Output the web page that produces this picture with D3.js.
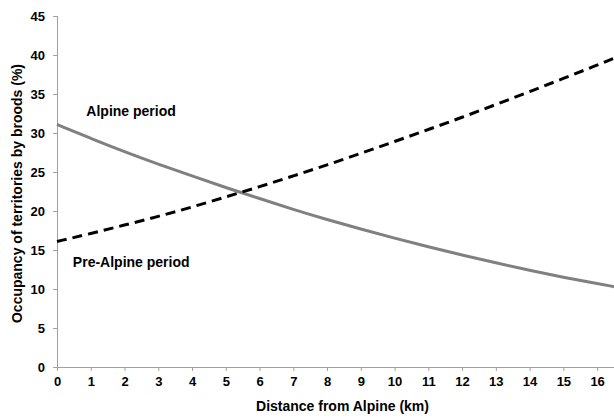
<!DOCTYPE html>
<html>
<head>
<meta charset="utf-8">
<script src="https://cdn.jsdelivr.net/npm/d3@7"></script>
<style>
  body { margin: 0; background: #fff; }
  svg { display: block; font-family: "Liberation Sans", Arial, sans-serif; }
  .axis path, .axis line { stroke: #a0a0a0; }
  .axis text { font-size: 13px; font-weight: bold; fill: #000; }
</style>
</head>
<body>
<svg id="chart" width="614" height="418"></svg>
<script>
// distance (km) and occupancy (%)
var distance   = [0, 1, 2, 3, 4, 5, 6, 7, 8, 9, 10, 11, 12, 13, 14, 15, 16, 16.5];
var alpine     = [31.1, 29.3, 27.6, 26.0, 24.5, 23.0, 21.6, 20.2, 18.9, 17.7, 16.5, 15.4, 14.35, 13.35, 12.4, 11.5, 10.7, 10.3];
var preAlpine  = [16.1, 17.1, 18.2, 19.3, 20.5, 21.8, 23.1, 24.5, 25.9, 27.4, 28.9, 30.45, 32.0, 33.65, 35.3, 37.0, 38.7, 39.6];
var xTicks = [0, 1, 2, 3, 4, 5, 6, 7, 8, 9, 10, 11, 12, 13, 14, 15, 16];
var yTicks = [0, 5, 10, 15, 20, 25, 30, 35, 40, 45];

var svg = d3.select("#chart"),
    margin = {top: 16, right: 0, bottom: 51, left: 57},
    width = +svg.attr("width") - margin.left - margin.right,
    height = +svg.attr("height") - margin.top - margin.bottom,
    g = svg.append("g").attr("transform", "translate(" + margin.left + "," + margin.top + ")");

var x = d3.scaleLinear().domain([0, 16.5]).range([0, width]),
    y = d3.scaleLinear().domain([0, 45]).range([height, 0]);

g.append("g")
    .attr("class", "axis")
    .attr("transform", "translate(0," + height + ")")
    .call(d3.axisBottom(x).tickValues(xTicks).tickSize(4).tickPadding(6))
    .call(function(a) { a.select(".domain").attr("d", "M0,0.5H" + width); });

g.append("g")
    .attr("class", "axis")
    .call(d3.axisLeft(y).tickValues(yTicks).tickSize(4).tickPadding(8))
    .call(function(a) { a.select(".domain").attr("d", "M0.5," + height + "V0"); });

var line = d3.line()
    .curve(d3.curveBasis)
    .x(function(d, i) { return x(distance[i]); })
    .y(function(d) { return y(d); });

g.append("path")
    .datum(alpine)
    .attr("fill", "none")
    .attr("stroke", "#808080")
    .attr("stroke-width", 3)
    .attr("d", line);

g.append("path")
    .datum(preAlpine)
    .attr("fill", "none")
    .attr("stroke", "#000")
    .attr("stroke-width", 3)
    .attr("stroke-dasharray", "10,6")
    .attr("d", line);

g.append("text")
    .attr("x", x(0.87)).attr("y", y(32.2))
    .style("font-size", "14px").style("font-weight", "bold")
    .text("Alpine period");

g.append("text")
    .attr("x", x(0.47)).attr("y", y(12.8))
    .style("font-size", "14px").style("font-weight", "bold")
    .text("Pre-Alpine period");

svg.append("text")
    .attr("x", margin.left + width / 2 + 7).attr("y", 411)
    .attr("text-anchor", "middle")
    .style("font-size", "14px").style("font-weight", "bold")
    .text("Distance from Alpine (km)");

svg.append("text")
    .attr("transform", "translate(22," + (margin.top + height / 2 + 2) + ") rotate(-90)")
    .attr("text-anchor", "middle")
    .style("font-size", "14px").style("font-weight", "bold")
    .text("Occupancy of territories by broods (%)");
</script>
</body>
</html>
